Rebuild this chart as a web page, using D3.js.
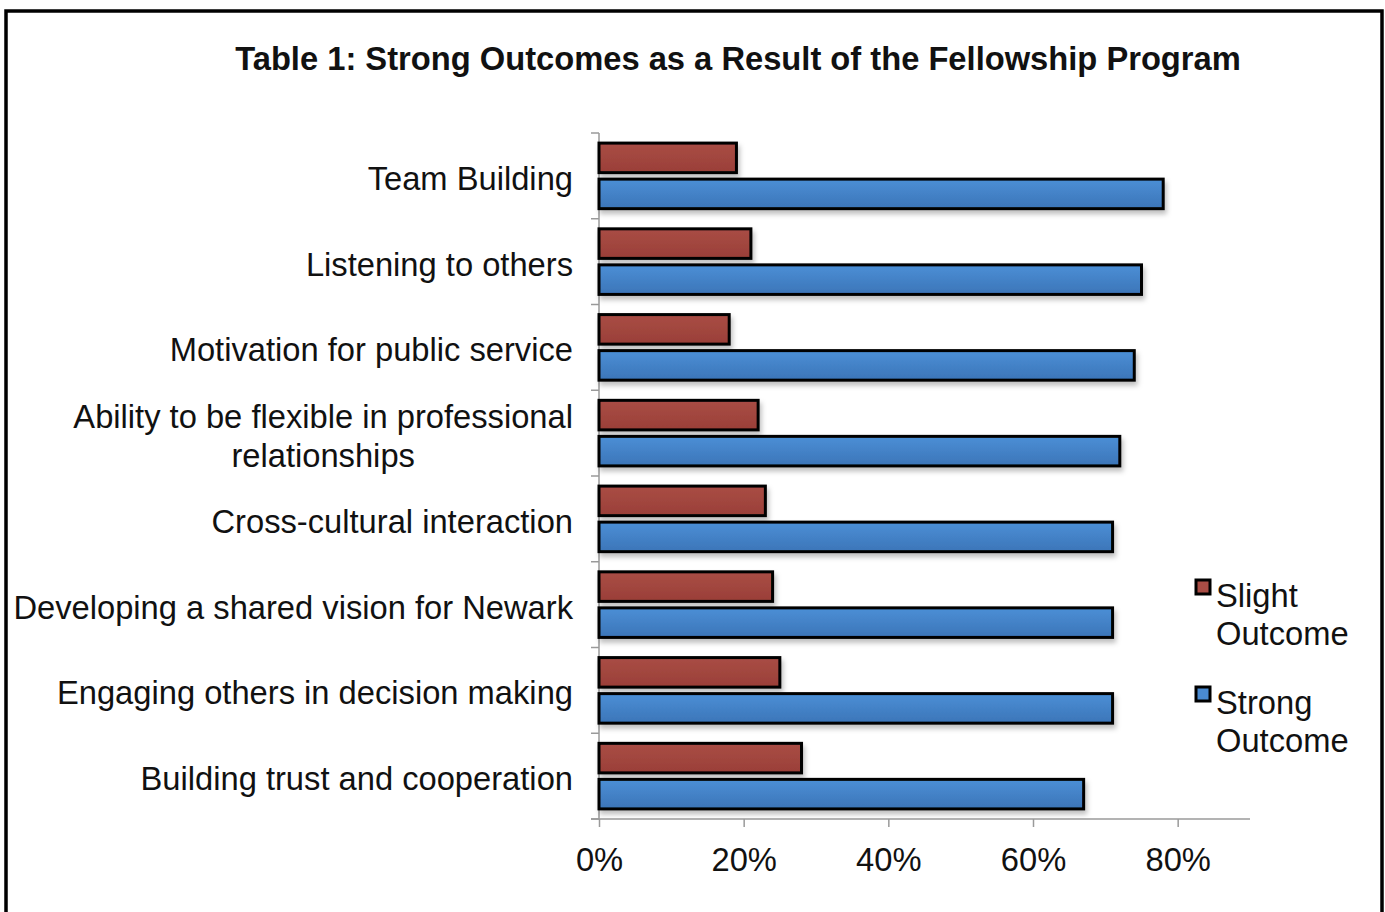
<!DOCTYPE html>
<html>
<head>
<meta charset="utf-8">
<script src="https://cdn.jsdelivr.net/npm/d3@7"></script>
<style>
  body { margin:0; background:#fff; }
  svg text { font-family: "Liberation Sans", Arial, Helvetica, sans-serif; fill:#111; }
</style>
</head>
<body>
<svg id="chart"></svg>
<script>
var width = 1385, height = 912;
var fs = 32.7;

// data
var categories = ["Team Building", "Listening to others", "Motivation for public service",
  "Ability to be flexible in professional relationships", "Cross-cultural interaction",
  "Developing a shared vision for Newark", "Engaging others in decision making",
  "Building trust and cooperation"];
var slight = [0.19, 0.21, 0.18, 0.22, 0.23, 0.24, 0.25, 0.28];
var strong = [0.78, 0.75, 0.74, 0.72, 0.71, 0.71, 0.71, 0.67];
var seriesNames = ["Slight Outcome", "Strong Outcome"];
var xTicks = [0, 0.2, 0.4, 0.6, 0.8];
var title = "Table 1: Strong Outcomes as a Result of the Fellowship Program";

var svg = d3.select("#chart").attr("width", width).attr("height", height);

var defs = svg.append("defs");
var grads = [["gRed", "#a94d45", "#9a3f38"], ["gBlue", "#4b8fd6", "#3c75b8"]];
grads.forEach(function(g){
  var lg = defs.append("linearGradient").attr("id", g[0]).attr("x1",0).attr("y1",0).attr("x2",0).attr("y2",1);
  lg.append("stop").attr("offset","0%").attr("stop-color", g[1]);
  lg.append("stop").attr("offset","100%").attr("stop-color", g[2]);
});
var f = defs.append("filter").attr("id","shadow").attr("x","-5%").attr("y","-30%").attr("width","120%").attr("height","180%");
f.append("feDropShadow").attr("dx",2).attr("dy",4).attr("stdDeviation",2.5).attr("flood-color","#000").attr("flood-opacity",0.25);

// outer frame
svg.append("rect").attr("x", 6).attr("y", 11).attr("width", 1376).attr("height", 920)
  .attr("fill", "none").attr("stroke", "#000").attr("stroke-width", 3.5);

svg.append("text").attr("x", 738).attr("y", 70).attr("text-anchor", "middle")
  .attr("font-size", fs).attr("font-weight", "bold").text(title);

var x = d3.scaleLinear().domain([0, 0.9]).range([599, 1250]);
var y = d3.scaleBand().domain(categories).range([133, 819]);
var y2 = d3.scaleBand().domain([0, 1]).range([0, y.bandwidth()]).paddingInner(0.18).paddingOuter(0.28);

// axes
var axisColor = "#9a9a9a";
var gx = svg.append("g").attr("transform", "translate(0,819)")
  .call(d3.axisBottom(x).tickValues(xTicks).tickFormat(d3.format(".0%")).tickSize(8).tickPadding(21).tickSizeOuter(0));
gx.select(".domain").attr("stroke", axisColor).attr("stroke-width", 1.5).attr("d", "M591,0H1250");
gx.selectAll(".tick line").attr("stroke", axisColor).attr("stroke-width", 1.5);
gx.selectAll(".tick text").attr("font-size", fs).attr("fill", "#111")
  .style("font-family", "'Liberation Sans', Arial, Helvetica, sans-serif");

var gy = svg.append("g").attr("transform", "translate(599,0)");
gy.append("line").attr("x1", 0).attr("x2", 0).attr("y1", 133).attr("y2", 819)
  .attr("stroke", axisColor).attr("stroke-width", 1.5);
gy.selectAll(".ytick").data(d3.range(categories.length + 1)).enter().append("line")
  .attr("x1", -8).attr("x2", 0)
  .attr("y1", function(i){ return 133 + i * y.step(); })
  .attr("y2", function(i){ return 133 + i * y.step(); })
  .attr("stroke", axisColor).attr("stroke-width", 1.5);

// bars
var colors = ["url(#gRed)", "url(#gBlue)"];
var data = [];
categories.forEach(function(c, i){
  data.push({cat: c, s: 0, v: slight[i]});
  data.push({cat: c, s: 1, v: strong[i]});
});
svg.append("g").selectAll("rect").data(data).enter().append("rect")
  .attr("x", x(0))
  .attr("y", function(d){ return y(d.cat) + y2(d.s); })
  .attr("width", function(d){ return x(d.v) - x(0); })
  .attr("height", y2.bandwidth())
  .attr("fill", function(d){ return colors[d.s]; })
  .attr("stroke", "#000").attr("stroke-width", 3)
  .attr("filter", "url(#shadow)");

// category labels
var labelLines = {
  "Ability to be flexible in professional relationships": ["Ability to be flexible in professional", "relationships"]
};
categories.forEach(function(c){
  var cy = y(c) + y.bandwidth() / 2;
  if (labelLines[c]) {
    var t = svg.append("text").attr("font-size", fs).attr("text-anchor", "middle");
    var lines = labelLines[c];
    // measure first line to centre the block and keep it right-aligned
    var tmp = svg.append("text").attr("font-size", fs).text(lines[0]);
    var w = tmp.node().getComputedTextLength();
    tmp.remove();
    var cx = 573 - w / 2;
    lines.forEach(function(l, k){
      t.append("tspan").attr("x", cx).attr("y", cy - 5 + k * 39).text(l);
    });
  } else {
    svg.append("text").attr("x", 573).attr("y", cy + 14).attr("font-size", fs)
      .attr("text-anchor", "end").text(c);
  }
});

// legend
var legY = [580, 687];
var legFill = ["#a94d45", "#4a8bd2"];
seriesNames.forEach(function(n, i){
  svg.append("rect").attr("x", 1196).attr("y", legY[i]).attr("width", 14).attr("height", 14)
    .attr("fill", legFill[i]).attr("stroke", "#000").attr("stroke-width", 3);
  var parts = n.split(" ");
  var t = svg.append("text").attr("font-size", fs);
  parts.forEach(function(p, k){
    t.append("tspan").attr("x", 1216).attr("y", legY[i] + 27 + k * 38).text(p);
  });
});
</script>
</body>
</html>
